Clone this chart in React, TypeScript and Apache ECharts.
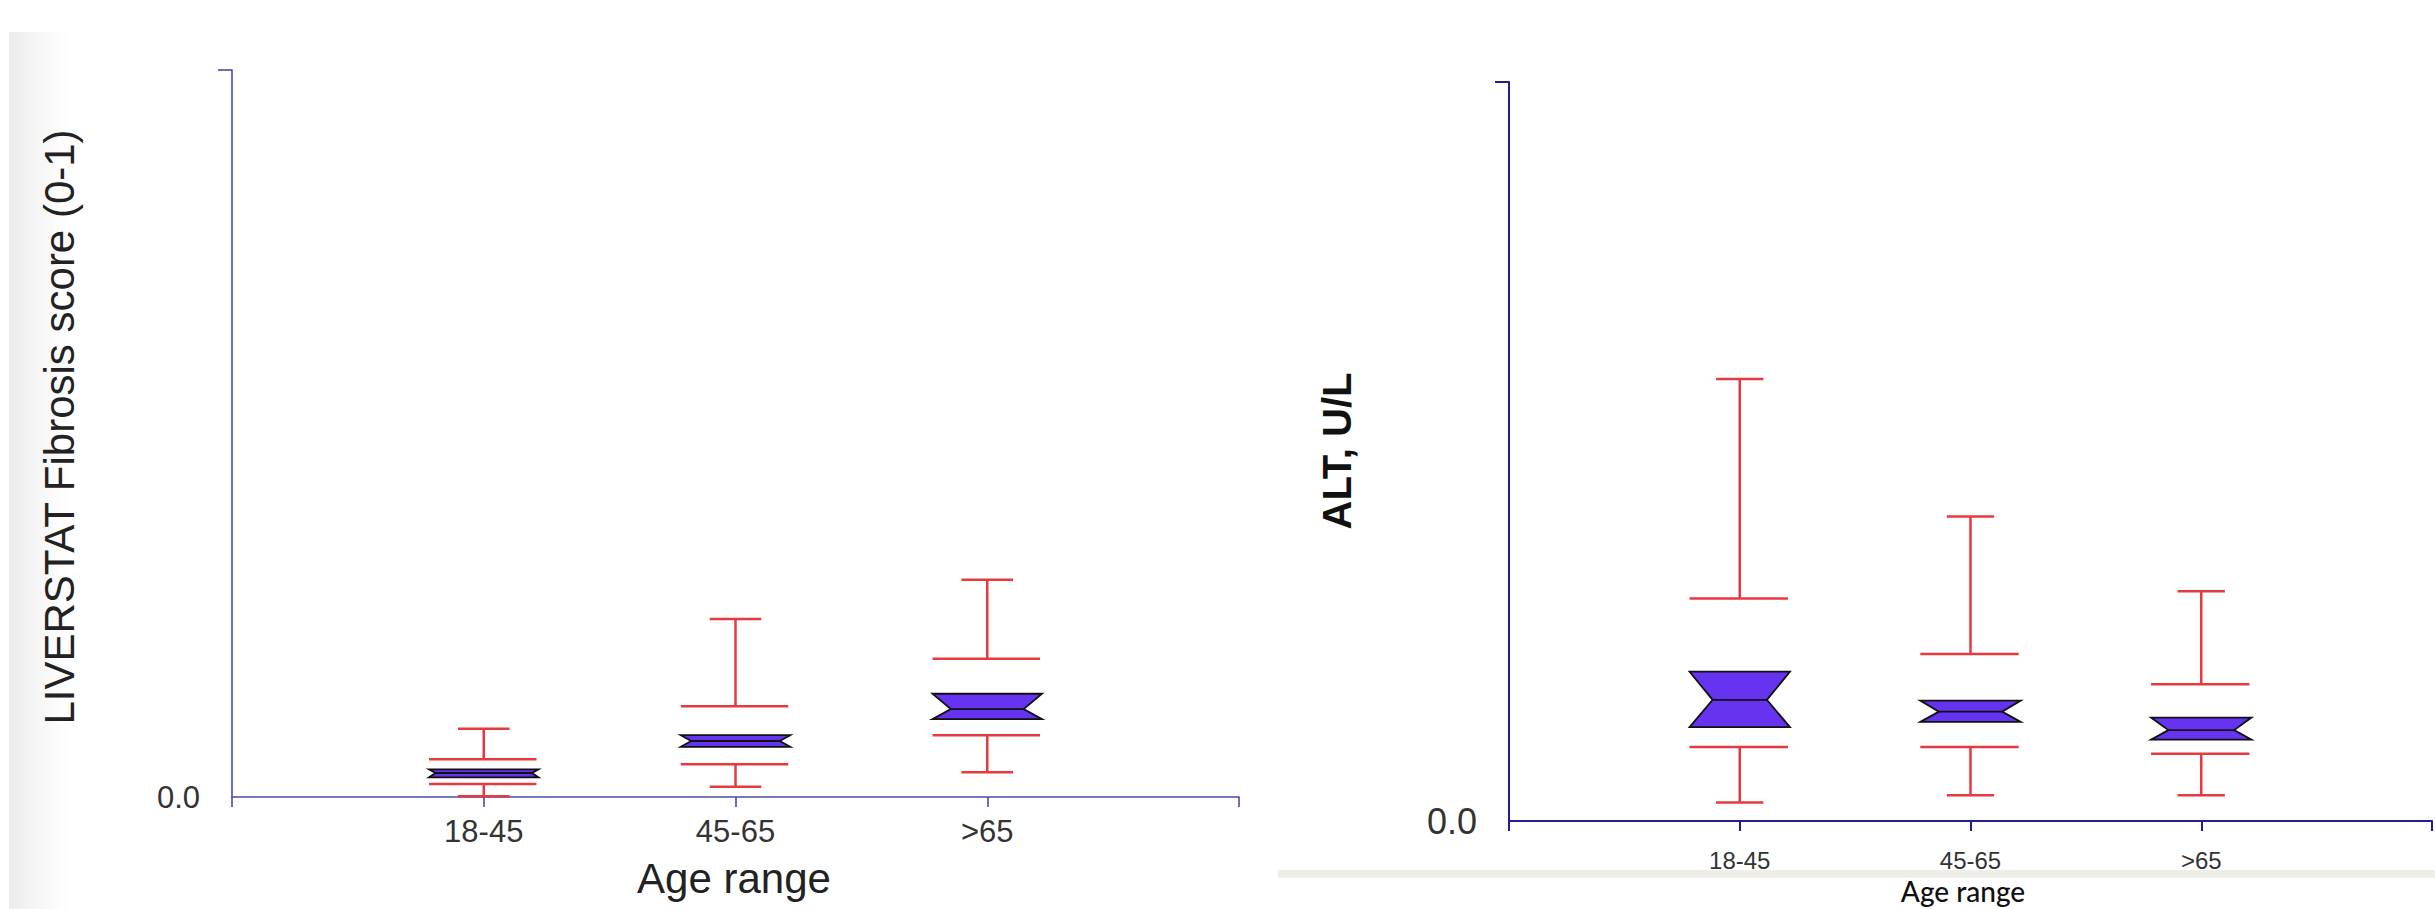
import React, { useEffect, useRef } from "react";
import * as echarts from "echarts";

// Categories (age ranges)
const categories = ["18-45", "45-65", ">65"];

// Left panel: LIVERSTAT Fibrosis score (0-1)
const fibWhiskerLow = [0.001, 0.014, 0.034];
const fibQ1 = [0.018, 0.045, 0.085];
const fibNotchLow = [0.027, 0.069, 0.107];
const fibMedian = [0.033, 0.077, 0.121];
const fibNotchHigh = [0.038, 0.085, 0.142];
const fibQ3 = [0.052, 0.125, 0.19];
const fibWhiskerHigh = [0.094, 0.245, 0.299];

// Right panel: ALT, U/L
const altWhiskerLow = [0.025, 0.035, 0.035];
const altQ1 = [0.1, 0.1, 0.091];
const altNotchLow = [0.127, 0.134, 0.11];
const altMedian = [0.164, 0.148, 0.123];
const altNotchHigh = [0.202, 0.163, 0.14];
const altQ3 = [0.301, 0.226, 0.185];
const altWhiskerHigh = [0.598, 0.412, 0.311];

// Y-axis tick label
const yZeroLabel = "0.0";

const RED = "#e63a3e";
const PURPLE = "#6633f0";

function buildRows(wl: number[], q1: number[], nl: number[], md: number[], nh: number[], q3: number[], wh: number[]) {
  return categories.map((_, i) => [i + 1, wl[i], q1[i], nl[i], md[i], nh[i], q3[i], wh[i]]);
}

function renderBox(params: any, api: any) {
  const x = api.value(0);
  const c = (k: number) => api.coord([x, api.value(k)]);
  const pWL = c(1), pQ1 = c(2), pNL = c(3), pMD = c(4), pNH = c(5), pQ3 = c(6), pWH = c(7);
  const cx = pMD[0];
  const unit = api.size([1, 0])[0];
  const bw = (unit * 0.435) / 2;
  const cw = (unit * 0.205) / 2;
  const halfH = Math.min(pNL[1] - pMD[1], pMD[1] - pNH[1]);
  const ind = Math.min(unit * 0.1, 1.8 * Math.max(halfH, 1));
  const red = { stroke: RED, lineWidth: 2.5 };
  const L = cx - bw, R = cx + bw;
  return {
    type: "group",
    children: [
      { type: "line", shape: { x1: cx, y1: pWH[1], x2: cx, y2: pQ3[1] }, style: red },
      { type: "line", shape: { x1: cx, y1: pQ1[1], x2: cx, y2: pWL[1] }, style: red },
      { type: "line", shape: { x1: cx - cw, y1: pWH[1], x2: cx + cw, y2: pWH[1] }, style: red },
      { type: "line", shape: { x1: cx - cw, y1: pWL[1], x2: cx + cw, y2: pWL[1] }, style: red },
      { type: "line", shape: { x1: L, y1: pQ3[1], x2: R - 2, y2: pQ3[1] }, style: red },
      { type: "line", shape: { x1: L, y1: pQ1[1], x2: R - 2, y2: pQ1[1] }, style: red },
      {
        type: "polygon",
        shape: {
          points: [
            [L, pNH[1]],
            [R, pNH[1]],
            [R - ind, pMD[1]],
            [R, pNL[1]],
            [L, pNL[1]],
            [L + ind, pMD[1]],
          ],
        },
        style: { fill: PURPLE, stroke: "#111", lineWidth: 1.8 },
      },
      { type: "line", shape: { x1: L + ind, y1: pMD[1], x2: R - ind, y2: pMD[1] }, style: { stroke: "#111", lineWidth: 1.8 } },
    ],
  };
}

function xAxisCfg(gridIndex: number, color: string, width: number, font: any, margin: number) {
  return {
    type: "value",
    gridIndex,
    min: 0,
    max: 4,
    interval: 1,
    axisLine: { show: true, lineStyle: { color, width } },
    axisTick: { show: true, inside: false, length: 10, lineStyle: { color, width } },
    splitLine: { show: false },
    axisLabel: {
      margin,
      color: "#333",
      ...font,
      formatter: (v: number) => (v >= 1 && v <= categories.length ? categories[v - 1] : ""),
    },
  };
}

function yAxisCfg(gridIndex: number, color: string, width: number, font: any) {
  return {
    type: "value",
    gridIndex,
    min: 0,
    max: 1,
    interval: 1,
    axisLine: { show: true, lineStyle: { color, width } },
    axisTick: { show: true, inside: false, length: 14, customValues: [1], lineStyle: { color, width } },
    splitLine: { show: false },
    axisLabel: {
      margin: 32,
      color: "#333",
      ...font,
      formatter: (v: number) => (v === 0 ? yZeroLabel : ""),
    },
  };
}

export default function App() {
  const ref = useRef<HTMLDivElement>(null);
  useEffect(() => {
    if (!ref.current) return;
    const chart = echarts.init(ref.current, null, { renderer: "svg" });
    const option: any = {
      animation: false,
      backgroundColor: "#ffffff",
      grid: [
        { left: 232, top: 70, width: 1007, height: 727 },
        { left: 1509, top: 82, width: 926, height: 739 },
      ],
      xAxis: [
        xAxisCfg(0, "#4a4aaa", 1.6, { fontFamily: "'Liberation Sans Narrow', 'Liberation Sans', sans-serif", fontSize: 31 }, 19),
        xAxisCfg(1, "#1f1f8f", 2, { fontFamily: "'Liberation Sans', Arial, sans-serif", fontSize: 24 }, 27),
      ],
      yAxis: [
        yAxisCfg(0, "#4a4aaa", 1.6, { fontFamily: "'Liberation Sans', Arial, sans-serif", fontSize: 31 }),
        yAxisCfg(1, "#1f1f8f", 2, { fontFamily: "'Liberation Sans Narrow', 'Liberation Sans', sans-serif", fontSize: 36 }),
      ],
      graphic: [
        {
          type: "rect",
          left: 9,
          top: 32,
          z: -10,
          shape: { width: 60, height: 877 },
          style: {
            fill: new echarts.graphic.LinearGradient(0, 0, 1, 0, [
              { offset: 0, color: "#ececec" },
              { offset: 0.5, color: "#f6f6f6" },
              { offset: 1, color: "#ffffff" },
            ]),
          },
        },
        {
          type: "rect",
          left: 1278,
          top: 870,
          z: -10,
          shape: { width: 1157, height: 8 },
          style: { fill: "#efede7" },
        },
        {
          type: "text",
          x: 59,
          y: 427,
          rotation: Math.PI / 2,
          style: {
            text: "LIVERSTAT Fibrosis score (0-1)",
            fontFamily: "'Liberation Sans', Arial, sans-serif",
            fontSize: 42,
            fill: "#222",
            align: "center",
            verticalAlign: "middle",
          },
        },
        {
          type: "text",
          x: 734,
          y: 878,
          style: {
            text: "Age range",
            fontFamily: "'Liberation Sans', Arial, sans-serif",
            fontSize: 42,
            fill: "#222",
            align: "center",
            verticalAlign: "middle",
          },
        },
        {
          type: "text",
          x: 1337,
          y: 451,
          rotation: Math.PI / 2,
          style: {
            text: "ALT, U/L",
            fontFamily: "'Liberation Sans', Arial, sans-serif",
            fontWeight: "bold",
            fontSize: 40,
            fill: "#111",
            align: "center",
            verticalAlign: "middle",
          },
        },
        {
          type: "text",
          x: 1963,
          y: 891,
          style: {
            text: "Age range",
            fontFamily: "Lato, 'Open Sans', sans-serif",
            fontWeight: 500,
            fontSize: 28,
            fill: "#111",
            align: "center",
            verticalAlign: "middle",
          },
        },
      ],
      series: [
        {
          type: "custom",
          xAxisIndex: 0,
          yAxisIndex: 0,
          clip: false,
          renderItem: renderBox,
          data: buildRows(fibWhiskerLow, fibQ1, fibNotchLow, fibMedian, fibNotchHigh, fibQ3, fibWhiskerHigh),
        },
        {
          type: "custom",
          xAxisIndex: 1,
          yAxisIndex: 1,
          clip: false,
          renderItem: renderBox,
          data: buildRows(altWhiskerLow, altQ1, altNotchLow, altMedian, altNotchHigh, altQ3, altWhiskerHigh),
        },
      ],
    };
    chart.setOption(option);
    return () => chart.dispose();
  }, []);
  return (
    <div
      ref={ref}
      style={{ position: "fixed", left: 0, top: 0, width: 2435, height: 909, background: "#fff" }}
    />
  );
}
